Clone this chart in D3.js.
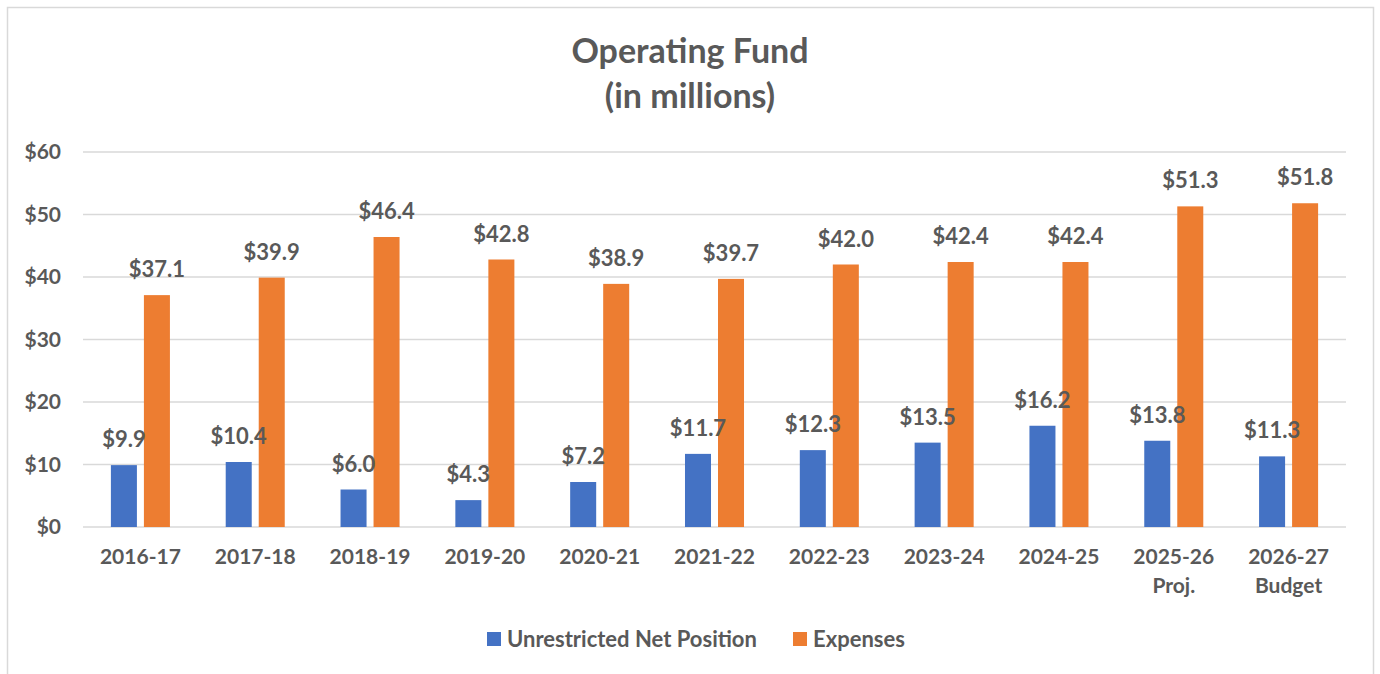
<!DOCTYPE html>
<html>
<head>
    <meta charset="utf-8" />
    <title>Operating Fund</title>
    <script src="https://cdn.jsdelivr.net/npm/d3@7"></script>
    <style>
        body { margin: 0; background: #fff; }
        text { font-family: Lato, "Open Sans", sans-serif; font-weight: bold; fill: #595959; }
    </style>
</head>
<body>
    <svg id="chart" width="1380" height="674"></svg>
    <script>
        const categories = [
            ['2016-17'], ['2017-18'], ['2018-19'], ['2019-20'], ['2020-21'],
            ['2021-22'], ['2022-23'], ['2023-24'], ['2024-25'],
            ['2025-26', 'Proj.'], ['2026-27', 'Budget']
        ];
        const seriesNames = ['Unrestricted Net Position', 'Expenses'];
        const netPosition = [9.9, 10.4, 6.0, 4.3, 7.2, 11.7, 12.3, 13.5, 16.2, 13.8, 11.3];
        const expenses = [37.1, 39.9, 46.4, 42.8, 38.9, 39.7, 42.0, 42.4, 42.4, 51.3, 51.8];
        const yTicks = [0, 10, 20, 30, 40, 50, 60];
        const colors = ['#4472C4', '#ED7D31'];

        const svg = d3.select('#chart');

        // outer chart border
        svg.append('rect')
            .attr('x', 7.5).attr('y', 7.5)
            .attr('width', 1366).attr('height', 700)
            .attr('fill', 'none').attr('stroke', '#d9d9d9').attr('stroke-width', 1.5);

        const left = 83, right = 1346, top_ = 152, bottom = 527;

        const x = d3.scaleBand()
            .domain(categories.map(d => d[0]))
            .range([left, right]);
        const x1 = d3.scaleBand()
            .domain(seriesNames)
            .range([0, x.bandwidth()])
            .paddingInner(0.212)
            .paddingOuter(0.845);
        const y = d3.scaleLinear().domain([0, 60]).range([bottom, top_]);

        // title
        svg.append('text')
            .attr('x', 690).attr('y', 63)
            .attr('text-anchor', 'middle')
            .style('font-size', '34px')
            .text('Operating Fund');
        svg.append('text')
            .attr('x', 690).attr('y', 108)
            .attr('text-anchor', 'middle')
            .style('font-size', '34px')
            .text('(in millions)');

        // gridlines
        svg.append('g')
            .selectAll('line')
            .data(yTicks)
            .enter().append('line')
            .attr('x1', left).attr('x2', right)
            .attr('y1', d => y(d)).attr('y2', d => y(d))
            .attr('stroke', '#d9d9d9').attr('stroke-width', 1.5);

        // y axis labels
        svg.append('g')
            .selectAll('text')
            .data(yTicks)
            .enter().append('text')
            .attr('x', 61)
            .attr('y', d => y(d))
            .attr('dy', '0.35em')
            .attr('text-anchor', 'end')
            .style('font-size', '21px')
            .text(d => '$' + d);

        const series = [netPosition, expenses];
        const points = [];
        seriesNames.forEach((name, i) => {
            series[i].forEach((v, j) => {
                points.push({ name: name, cat: categories[j][0], v: v, color: colors[i] });
            });
        });

        svg.append('g')
            .selectAll('rect')
            .data(points)
            .enter().append('rect')
            .attr('x', d => x(d.cat) + x1(d.name))
            .attr('y', d => y(d.v))
            .attr('width', x1.bandwidth())
            .attr('height', d => y(0) - y(d.v))
            .attr('fill', d => d.color);

        // value labels, drawn over all bars
        svg.append('g')
            .selectAll('text')
            .data(points)
            .enter().append('text')
            .attr('x', d => x(d.cat) + x1(d.name) + x1.bandwidth() / 2)
            .attr('y', d => y(d.v) - 18)
            .attr('text-anchor', 'middle')
            .style('font-size', '22px')
            .text(d => '$' + d.v.toFixed(1));

        // category labels
        const cat = svg.append('g')
            .selectAll('text')
            .data(categories)
            .enter().append('text')
            .attr('text-anchor', 'middle')
            .style('font-size', '21px')
            .attr('x', d => x(d[0]) + x.bandwidth() / 2)
            .attr('y', 564);
        cat.selectAll('tspan')
            .data(d => d)
            .enter().append('tspan')
            .attr('x', function () { return d3.select(this.parentNode).attr('x'); })
            .attr('dy', (d, i) => i === 0 ? 0 : 29)
            .text(d => d);

        // legend
        const legendX = [487, 793];
        const legend = svg.append('g')
            .selectAll('g')
            .data(seriesNames)
            .enter().append('g')
            .attr('transform', (d, i) => `translate(${legendX[i]},632)`);
        legend.append('rect')
            .attr('width', 14).attr('height', 14)
            .attr('fill', (d, i) => colors[i]);
        legend.append('text')
            .attr('x', 20).attr('y', 15)
            .style('font-size', '22px')
            .text(d => d);
    </script>
</body>
</html>
